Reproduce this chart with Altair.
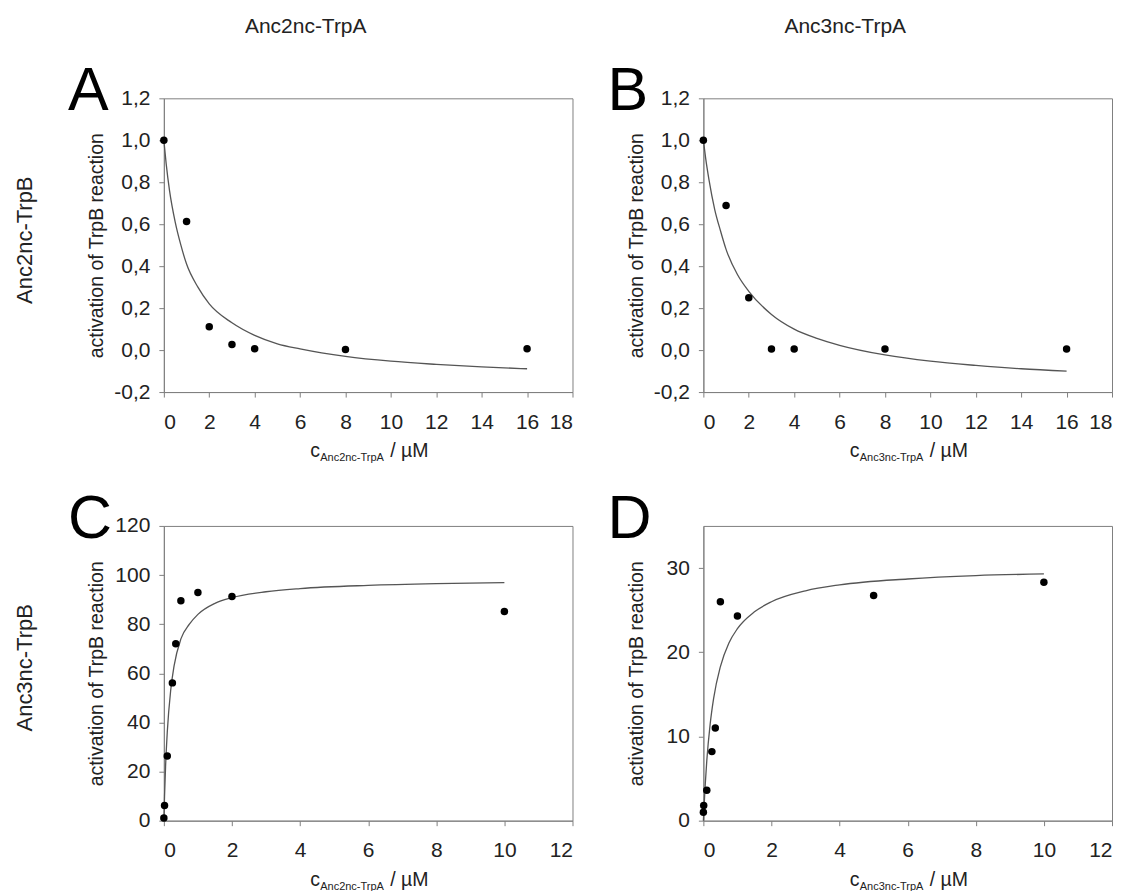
import altair as alt
import pandas as pd

FONT = "Liberation Sans"

# ---- measured data points ----
A_x = [0, 1, 2, 3, 4, 8, 16]
A_y = [1.0, 0.613, 0.111, 0.027, 0.006, 0.003, 0.006]
B_x = [0, 1, 2, 3, 4, 8, 16]
B_y = [1.0, 0.689, 0.249, 0.005, 0.005, 0.005, 0.005]
C_x = [0, 0.02, 0.1, 0.25, 0.35, 0.5, 1, 2, 10]
C_y = [1.1, 6.2, 26.3, 56.1, 72.0, 89.5, 92.9, 91.3, 85.2]
D_x = [0, 0.01, 0.1, 0.25, 0.35, 0.5, 1, 5, 10]
D_y = [1.0, 1.8, 3.6, 8.2, 11.0, 26.0, 24.3, 26.75, 28.3]

# ---- fitted curves ----
AB_fit_x = [0, 0.1, 0.25, 0.5, 0.75, 1, 1.5, 2, 3, 4, 5, 6, 8, 10, 12, 14, 16]
A_fit_y = [1.0, 0.89, 0.76, 0.61, 0.50, 0.41, 0.30, 0.22, 0.13, 0.07, 0.03, 0.006,
           -0.03, -0.053, -0.068, -0.080, -0.089]
B_fit_y = [1.0, 0.915, 0.81, 0.67, 0.57, 0.48, 0.36, 0.28, 0.17, 0.10, 0.056, 0.023,
           -0.023, -0.053, -0.073, -0.089, -0.100]
C_fit_x = [0, 0.02, 0.05, 0.1, 0.2, 0.3, 0.5, 0.75, 1, 1.5, 2, 3, 4, 6, 8, 10]
C_fit_y = [0, 10, 22, 36, 53, 63, 74, 80, 84, 88.5, 90.8, 93.2, 94.5, 95.8, 96.5, 96.9]
D_fit_x = [0, 0.05, 0.1, 0.2, 0.3, 0.5, 0.75, 1, 1.5, 2, 3, 4, 6, 8, 10]
D_fit_y = [0, 4.0, 7.1, 11.5, 14.5, 18.3, 21.1, 22.8, 24.8, 26.0, 27.3, 28.0, 28.7, 29.1, 29.3]

AB_y_ticks = [-0.2, 0.0, 0.2, 0.4, 0.6, 0.8, 1.0, 1.2]
C_y_ticks = [0, 20, 40, 60, 80, 100, 120]
D_y_ticks = [0, 10, 20, 30]
AB_x_ticks = [0, 2, 4, 6, 8, 10, 12, 14, 16, 18]
CD_x_ticks = [0, 2, 4, 6, 8, 10, 12]

col_titles = ["Anc2nc-TrpA", "Anc3nc-TrpA"]
row_titles = ["Anc2nc-TrpB", "Anc3nc-TrpB"]
letters = ["A", "B", "C", "D"]
y_title = "activation of TrpB reaction"

W = 409


def txt(s):
    return alt.Chart(pd.DataFrame({"t": [s]}))


def panel(px, py, fx, fy, xticks, ydom, yticks, comma, letter, sub, h,
          col_title=None, row_title=None):
    pts = pd.DataFrame({"x": px, "y": py})
    fit = pd.DataFrame({"x": fx, "y": fy})
    xscale = alt.Scale(domain=[xticks[0], xticks[-1]], nice=False, zero=False)
    yscale = alt.Scale(domain=ydom, nice=False, zero=False)
    if comma:
        lexpr = "replace(replace(format(datum.value, '.1f'), '.', ','), '\u2212', '-')"
    else:
        lexpr = "format(datum.value, 'd')"
    xaxis = alt.Axis(values=xticks, title=None, labelPadding=14)
    yaxis = alt.Axis(values=yticks, labelExpr=lexpr, title=y_title,
                     titleX=-67, titleY=h / 2, titleAngle=270, titleAlign="center",
                     titleBaseline="middle", titleFontSize=19.5, titleFontWeight="normal",
                     titleFont=FONT, titleColor="#222", labelPadding=9)
    line = alt.Chart(fit).mark_line(color="#555555", strokeWidth=1.3,
                                    interpolate="monotone").encode(
        x=alt.X("x:Q", scale=xscale, axis=xaxis),
        y=alt.Y("y:Q", scale=yscale, axis=yaxis))
    dots = alt.Chart(pts).mark_circle(size=56, color="black", opacity=1).encode(
        x="x:Q", y="y:Q")
    layers = [line, dots]
    layers.append(txt(letter).mark_text(align="left", baseline="alphabetic", fontSize=61,
                                        font=FONT, color="black").encode(
        text="t:N", x=alt.value(-96), y=alt.value(12)))
    # x axis title with subscript
    ty = h + 65
    x0 = W / 2 - 58
    layers.append(txt("c").mark_text(align="left", baseline="alphabetic", fontSize=19.5,
                                     font=FONT, color="#222").encode(
        text="t:N", x=alt.value(x0), y=alt.value(ty)))
    layers.append(txt(sub).mark_text(align="left", baseline="alphabetic", fontSize=11,
                                     font=FONT, color="#222").encode(
        text="t:N", x=alt.value(x0 + 10), y=alt.value(ty + 4)))
    layers.append(txt("/ \u00b5M").mark_text(align="left", baseline="alphabetic", fontSize=19.5,
                                           font=FONT, color="#222").encode(
        text="t:N", x=alt.value(x0 + 10 + 64 + 6), y=alt.value(ty)))
    if col_title:
        layers.append(txt(col_title).mark_text(align="center", baseline="alphabetic",
                                               fontSize=21, font=FONT, color="#222").encode(
            text="t:N", x=alt.value(142), y=alt.value(-65)))
    if row_title:
        layers.append(txt(row_title).mark_text(align="center", baseline="middle", angle=270,
                                               fontSize=22, font=FONT, color="#222").encode(
            text="t:N", x=alt.value(-139), y=alt.value(142)))
    return alt.layer(*layers).properties(width=W, height=h)


pA = panel(A_x, A_y, AB_fit_x, A_fit_y, AB_x_ticks, [-0.2, 1.2], AB_y_ticks, True,
           letters[0], "Anc2nc-TrpA", 294, col_title=col_titles[0], row_title=row_titles[0])
pB = panel(B_x, B_y, AB_fit_x, B_fit_y, AB_x_ticks, [-0.2, 1.2], AB_y_ticks, True,
           letters[1], "Anc3nc-TrpA", 294, col_title=col_titles[1])
pC = panel(C_x, C_y, C_fit_x, C_fit_y, CD_x_ticks, [0, 120], C_y_ticks, False,
           letters[2], "Anc2nc-TrpA", 295, row_title=row_titles[1])
pD = panel(D_x, D_y, D_fit_x, D_fit_y, CD_x_ticks, [0, 35], D_y_ticks, False,
           letters[3], "Anc3nc-TrpA", 295)

chart = alt.concat(pA, pB, pC, pD, columns=2,
                   spacing={"row": 134, "column": 131}, bounds="flush").properties(
    padding={"left": 5, "top": 7, "right": 5, "bottom": 5}
).configure_view(stroke="#808080", strokeWidth=1).configure_axis(
    grid=False, domainColor="#808080", tickColor="#808080", tickSize=5,
    labelFont=FONT, labelFontSize=21, labelColor="#222"
)

chart.save("out.html", embed_options={"renderer": "svg", "actions": False})
